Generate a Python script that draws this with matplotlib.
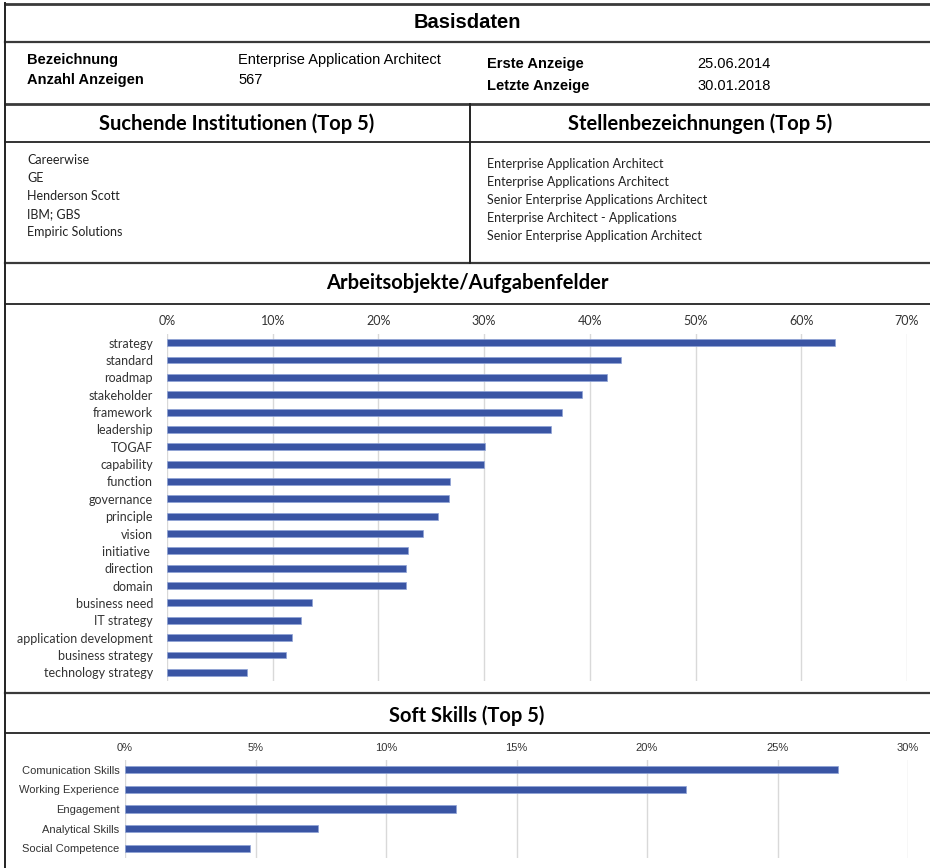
import matplotlib
matplotlib.use("Agg")
import matplotlib.pyplot as plt
from matplotlib.lines import Line2D
from matplotlib.ticker import PercentFormatter

# Basisdaten
basis_links = [("Bezeichnung", "Enterprise Application Architect"),
               ("Anzahl Anzeigen", "567")]
basis_rechts = [("Erste Anzeige", "25.06.2014"),
                ("Letzte Anzeige", "30.01.2018")]

institutionen = ["Careerwise", "GE", "Henderson Scott", "IBM; GBS",
                 "Empiric Solutions"]
stellen = ["Enterprise Application Architect",
           "Enterprise Applications Architect",
           "Senior Enterprise Applications Architect",
           "Enterprise Architect - Applications",
           "Senior Enterprise Application Architect"]

# Arbeitsobjekte/Aufgabenfelder (Anteil in %)
aufgaben = ["strategy", "standard", "roadmap", "stakeholder", "framework",
            "leadership", "TOGAF", "capability", "function", "governance",
            "principle", "vision", "initiative ", "direction", "domain",
            "business need", "IT strategy", "application development",
            "business strategy", "technology strategy"]
aufgaben_anteil = [63.2, 42.9, 41.6, 39.3, 37.4, 36.3, 30.1, 30.0, 26.8, 26.7,
                   25.6, 24.2, 22.8, 22.6, 22.6, 13.7, 12.7, 11.8, 11.3, 7.6]
aufgaben_ticks = [0, 10, 20, 30, 40, 50, 60, 70]

# Soft Skills (Top 5)
skills = ["Comunication Skills", "Working Experience", "Engagement",
          "Analytical Skills", "Social Competence"]
skills_anteil = [27.3, 21.5, 12.7, 7.4, 4.8]
skills_ticks = [0, 5, 10, 15, 20, 25, 30]

W, H = 930, 868
BLAU = "#3A55A4"
NARROW = ["Liberation Sans Narrow", "Liberation Sans", "DejaVu Sans"]
CALI = ["Lato", "DejaVu Sans"]

fig = plt.figure(figsize=(W / 100, H / 100), dpi=100)


def fx(x):
    return x / W


def fy(y):
    return 1 - y / H


def hline(y, x0=5, x1=W, lw=1.6, c="#3a3a3a"):
    fig.add_artist(Line2D([fx(x0), fx(x1)], [fy(y), fy(y)], lw=lw, color=c))


def vline(x, y0, y1, lw=1.4, c="#222222"):
    fig.add_artist(Line2D([fx(x), fx(x)], [fy(y0), fy(y1)], lw=lw, color=c))


def txt(x, y, s, **kw):
    fig.text(fx(x), fy(y), s, va="center", **kw)


# Rahmen
hline(4, lw=2.0)
hline(42)
hline(104, lw=2.0)
hline(142, lw=1.2, c="#111111")
hline(263, lw=1.6)
hline(304, lw=1.2, c="#111111")
hline(693, lw=1.6)
hline(733, lw=1.2, c="#111111")
vline(5, 3, H)
vline(470, 104, 263)

# Kopfzeilen
txt(467, 22, "Basisdaten", ha="center", fontsize=14.5, fontweight="bold",
    family=NARROW)
txt(237, 124, "Suchende Institutionen (Top 5)", ha="center", fontsize=14.5,
    fontweight="bold", family=CALI)
txt(700, 124, "Stellenbezeichnungen (Top 5)", ha="center", fontsize=14.5,
    fontweight="bold", family=CALI)
txt(467, 283, "Arbeitsobjekte/Aufgabenfelder", ha="center", fontsize=14.5,
    fontweight="bold", family=CALI)
txt(467, 716, "Soft Skills (Top 5)", ha="center", fontsize=14.5,
    fontweight="bold", family=CALI)

# Basisdaten Inhalt
for i, (k, v) in enumerate(basis_links):
    txt(27, 60 + 20 * i, k, fontsize=10.5, fontweight="bold", family=NARROW)
    txt(238, 60 + 20 * i, v, fontsize=10.5, family=NARROW)
for i, (k, v) in enumerate(basis_rechts):
    txt(487, 64 + 22 * i, k, fontsize=10.5, fontweight="bold", family=NARROW)
    txt(697, 64 + 22 * i, v, fontsize=10.5, family=NARROW)

for i, s in enumerate(institutionen):
    txt(27, 160 + 18 * i, s, fontsize=9, family=CALI, color="#222222")
for i, s in enumerate(stellen):
    txt(487, 164 + 18 * i, s, fontsize=9, family=CALI, color="#222222")


def balken(rect, labels, werte, ticks, hoehe, font, fs):
    l, t, r, b = rect
    ax = fig.add_axes([fx(l), fy(b), (r - l) / W, (b - t) / H])
    y = list(range(len(labels)))
    ax.barh(y, werte, height=hoehe, color=BLAU, edgecolor="#8fa3d6",
            linewidth=0.5, zorder=3)
    ax.set_ylim(len(labels) - 0.5, -0.5)
    ax.set_xlim(ticks[0], ticks[-1])
    ax.set_xticks(ticks)
    ax.xaxis.set_major_formatter(PercentFormatter(decimals=0))
    ax.xaxis.tick_top()
    ax.set_yticks(y)
    ax.set_yticklabels(labels)
    ax.grid(axis="x", color="#d9d9d9", lw=1.0, zorder=0)
    for sp in ax.spines.values():
        sp.set_visible(False)
    ax.tick_params(length=0, colors="#333333")
    for lab in ax.get_xticklabels() + ax.get_yticklabels():
        lab.set_family(font)
        lab.set_fontsize(fs)
    return ax


ax1 = balken((167, 334, 907, 681), aufgaben, aufgaben_anteil, aufgaben_ticks,
             0.4, CALI, 9)
ax1.tick_params(axis="x", pad=5)
ax1.tick_params(axis="y", pad=10)

ax2 = balken((125, 760, 908, 858), skills, skills_anteil, skills_ticks,
             0.37, NARROW, 8)
ax2.tick_params(axis="x", pad=5)
ax2.tick_params(axis="y", pad=4)

fig.savefig("out.png", dpi=100, facecolor="white")
